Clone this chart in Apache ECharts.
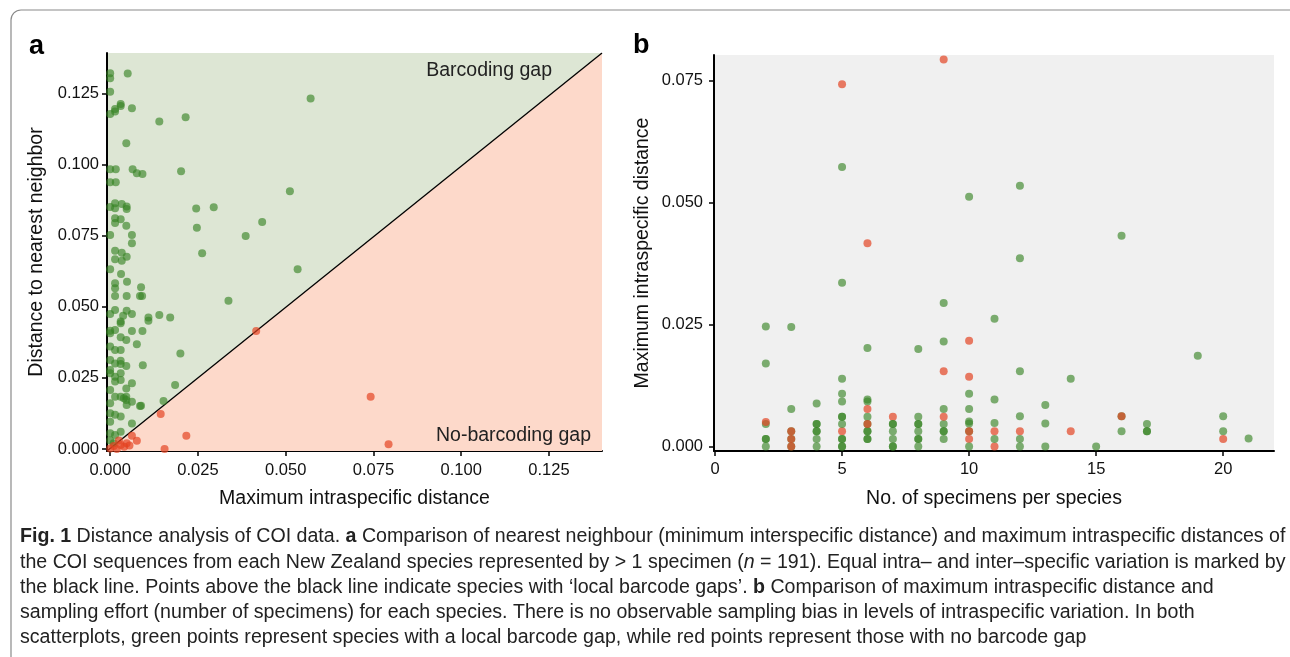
<!DOCTYPE html>
<html><head><meta charset="utf-8">
<script src="https://cdn.jsdelivr.net/npm/echarts@6/dist/echarts.min.js"></script>
<style>html,body{margin:0;padding:0;background:#fff}#c{width:1290px;height:657px}</style>
</head><body><div id="c"></div>
<script>
// Panel a: [max intraspecific distance, distance to nearest neighbour]
const gapPointsA = [
[0,0.1321],[0,0.1303],[0.0050,0.1320],[0,0.1256],[0.0030,0.1213],[0.0030,0.1206],[0.0062,0.1198],[0.0014,0.1186],[0.0014,0.1195],[0,0.1178],[0.0140,0.1151],[0.0215,0.1166],[0.0571,0.1232],[0.0046,0.1075],
[0,0.0983],[0.0016,0.0983],[0.0064,0.0983],[0.0076,0.0969],[0.0092,0.0967],[0.0202,0.0976],[0,0.0938],[0.0016,0.0938],[0.0512,0.0906],
[0,0.0851],[0.0014,0.0864],[0.0014,0.0846],[0.0033,0.0861],[0.0047,0.0852],[0.0047,0.0844],[0.0245,0.0845],[0.0295,0.0850],
[0.0014,0.0811],[0.0030,0.0808],[0.0014,0.0794],[0.0046,0.0785],[0,0.0752],[0.0062,0.0752],[0.0062,0.0723],[0.0247,0.0778],[0.0433,0.0798],[0.0386,0.0749],[0.0262,0.0688],
[0.0014,0.0697],[0.0033,0.0690],[0.0047,0.0676],[0.0014,0.0667],[0.0033,0.0662],[0.0534,0.0632],[0,0.0632],
[0.0031,0.0615],[0.0048,0.0588],[0.0014,0.0583],[0.0014,0.0565],[0.0088,0.0569],[0.0014,0.0538],[0.0047,0.0538],[0.0085,0.0538],[0.0091,0.0538],[0.0337,0.0521],
[0,0.0475],[0.0014,0.0489],[0.0047,0.0486],[0.0062,0.0475],[0.0037,0.0468],[0.0109,0.0462],[0.0109,0.0451],[0.0140,0.0471],[0.0171,0.0462],
[0.0030,0.0448],[0,0.0416],[0.0014,0.0418],[0.0062,0.0415],[0.0092,0.0415],[0.0030,0.0442],[0,0.0407],
[0.0030,0.0393],[0.0046,0.0383],[0.0076,0.0368],[0,0.0360],[0.0014,0.0348],[0.0030,0.0348],[0.0200,0.0336],
[0,0.0313],[0.0014,0.0301],[0.0030,0.0299],[0.0046,0.0292],[0.0093,0.0294],[0.0030,0.0310],
[0,0.0266],[0.0014,0.0254],[0.0030,0.0243],[0.0062,0.0231],[0.0046,0.0213],[0.0185,0.0225],[0,0.0278],[0.0030,0.0266],[0.0014,0.0237],
[0,0.0207],[0.0014,0.0184],[0.0030,0.0184],[0.0046,0.0184],[0.0039,0.0178],[0.0046,0.0172],[0.0085,0.0151],
[0,0.0161],[0.0047,0.0155],[0.0062,0.0166],[0.0088,0.0152],[0.0152,0.0169],
[0,0.0126],[0.0014,0.0120],[0.0030,0.0114],[0.0062,0.0090],[0,0.0096],
[0,0.0055],[0.0014,0.0049],[0.0030,0.0061],[0,0.0030],[0.0010,0.0020]
];
const noGapPointsA = [
[0.0144,0.0123],[0.0217,0.0047],[0.0155,0.0],[0.0416,0.0415],[0.0742,0.0184],[0.0793,0.0017],
[0.0062,0.0047],[0.0076,0.0029],[0.0047,0.0020],[0.0030,0.0014],[0.0010,0.0011],[0,0.0002],[0.0019,0],[0.0040,0.0008],[0.0055,0.0012],[0.0025,0.0030]
];
// Panel b: [no. of specimens, max intraspecific distance]
const gapPointsB = [
[2,0.0246],[2,0.0170],[2,0.0046],[2,0.0015],[2,0],[2,0.0015],
[3,0.0245],[3,0.0077],[3,0.0031],[3,0.0015],[3,0],
[4,0.0088],[4,0.0046],[4,0.0031],[4,0.0015],[4,0],[4,0.0046],[4,0.0031],
[5,0.0573],[5,0.0336],[5,0.0139],[5,0.0108],[5,0.0092],[5,0.0061],[5,0.0061],[5,0.0046],[5,0.0015],[5,0.0015],[5,0],[5,0],
[6,0.0202],[6,0.0096],[6,0.0092],[6,0.0061],[6,0.0031],[6,0.0031],[6,0.0015],[6,0.0015],[6,0.0046],
[7,0.0046],[7,0.0046],[7,0.0031],[7,0.0015],[7,0],[7,0],
[8,0.0200],[8,0.0061],[8,0.0046],[8,0.0046],[8,0.0031],[8,0.0015],[8,0.0015],[8,0],
[9,0.0294],[9,0.0215],[9,0.0077],[9,0.0046],[9,0.0031],[9,0.0031],[9,0.0015],
[10,0.0512],[10,0.0108],[10,0.0077],[10,0.0051],[10,0.0047],[10,0],[10,0.0031],
[11,0.0262],[11,0.0096],[11,0.0048],[11,0.0015],
[12,0.0535],[12,0.0386],[12,0.0154],[12,0.0062],[12,0.0015],[12,0],
[13,0.0085],[13,0.0047],[13,0],
[14,0.0139],
[15,0],
[16,0.0432],[16,0.0031],[16,0.0062],
[17,0.0046],[17,0.0031],[17,0.0031],
[19,0.0186],
[20,0.0062],[20,0.0031],
[21,0.0016]
];
const noGapUnderB = [[7,0.0061],[11,0.0031],[12,0.0031],[14,0.0031],[5,0.0031],[10,0.0015],[11,0]];
const noGapOverB = [
[5,0.0743],[9,0.0794],[6,0.0417],[10,0.0217],[10,0.0143],[9,0.0154],[6,0.0077],[9,0.0061],[6,0.0046],
[2,0.0050],[3,0.0031],[3,0.0015],[3,0],[10,0.0031],[16,0.0062],[20,0.0015]
];
const ticksA = [0, 0.025, 0.05, 0.075, 0.1, 0.125];
const ticksBy = [0, 0.025, 0.05, 0.075];
const ticksBx = [0, 5, 10, 15, 20];
const captionLines = [
  '{b|Fig. 1} Distance analysis of COI data. {b|a} Comparison of nearest neighbour (minimum interspecific distance) and maximum intraspecific distances of',
  'the COI sequences from each New Zealand species represented by > 1 specimen ({i|n} = 191). Equal intra\u2013 and inter\u2013specific variation is marked by',
  'the black line. Points above the black line indicate species with \u2018local barcode gaps\u2019. {b|b} Comparison of maximum intraspecific distance and',
  'sampling effort (number of specimens) for each species. There is no observable sampling bias in levels of intraspecific variation. In both',
  'scatterplots, green points represent species with a local barcode gap, while red points represent those with no barcode gap'
];

const FONT = '"Liberation Sans", Arial, Helvetica, sans-serif';
const CAPFONT = '"Liberation Sans", sans-serif';
const CAPSIZE = 19.6;
const GREEN = 'rgba(54,132,36,0.8)';
const RED = 'rgba(228,66,32,0.86)';
function axisCommon(ticks, fmt, margin) {
  return {
    axisLine: {show: true, onZero: false, lineStyle: {color: '#000', width: 2}},
    axisTick: {show: true, customValues: ticks, length: 5, inside: false, lineStyle: {color: '#000', width: 1.5}},
    axisLabel: {show: true, customValues: ticks, formatter: fmt, margin: margin, color: '#111', fontSize: 16.5, fontFamily: FONT},
    splitLine: {show: false},
    nameLocation: 'middle',
    nameTextStyle: {color: '#111', fontSize: 19.5, fontFamily: FONT}
  };
}
const xMinA = -0.0009, xMaxA = 0.1401, yMinA = -0.0007, yMaxA = 0.1392;

const chart = echarts.init(document.getElementById('c'), null, {renderer: 'canvas'});
const capY = [537, 563, 588, 613, 638];
chart.setOption({
  animation: false,
  backgroundColor: '#fff',
  grid: [
    {left: 107, top: 53, width: 495, height: 398, show: true, backgroundColor: '#dde6d4', borderWidth: 0},
    {left: 714, top: 55, width: 560, height: 396, show: true, backgroundColor: '#f0f0f0', borderWidth: 0}
  ],
  xAxis: [
    Object.assign(axisCommon(ticksA, v => v.toFixed(3), 11), {type: 'value', gridIndex: 0, min: xMinA, max: xMaxA, name: 'Maximum intraspecific distance', nameGap: 38}),
    Object.assign(axisCommon(ticksBx, v => String(v), 10), {type: 'value', gridIndex: 1, min: -0.04, max: 22, name: 'No. of specimens per species', nameGap: 38})
  ],
  yAxis: [
    Object.assign(axisCommon(ticksA, v => v.toFixed(3), 8), {type: 'value', gridIndex: 0, min: yMinA, max: yMaxA, name: 'Distance to nearest neighbor', nameGap: 60}),
    Object.assign(axisCommon(ticksBy, v => v.toFixed(3), 11), {type: 'value', gridIndex: 1, min: -0.00094, max: 0.0803, name: 'Maximum intraspecific distance', nameGap: 61})
  ],
  series: [
    {type: 'line', xAxisIndex: 0, yAxisIndex: 0, data: [[xMinA, yMinA], [xMaxA, yMaxA]], symbol: 'none', silent: true,
     lineStyle: {color: '#000', width: 1.3}, areaStyle: {color: '#fdd9ca', opacity: 1, origin: 'start'}, z: 1},
    {type: 'scatter', xAxisIndex: 0, yAxisIndex: 0, data: gapPointsA, symbolSize: 8, itemStyle: {color: GREEN}, z: 3},
    {type: 'scatter', xAxisIndex: 0, yAxisIndex: 0, data: noGapPointsA, symbolSize: 8, itemStyle: {color: RED}, z: 4},
    {type: 'scatter', xAxisIndex: 1, yAxisIndex: 1, data: noGapUnderB, symbolSize: 8, itemStyle: {color: RED}, z: 2},
    {type: 'scatter', xAxisIndex: 1, yAxisIndex: 1, data: gapPointsB, symbolSize: 8, itemStyle: {color: GREEN}, z: 3},
    {type: 'scatter', xAxisIndex: 1, yAxisIndex: 1, data: noGapOverB, symbolSize: 8, itemStyle: {color: RED}, z: 4}
  ],
  graphic: [
    {type: 'rect', shape: {x: 11, y: 10, width: 1320, height: 720, r: 10}, style: {fill: 'none', stroke: '#8a8a8a', lineWidth: 1.2}, z: 0, silent: true},
    {type: 'text', left: 29, top: 33, style: {text: 'a', font: 'bold 27px ' + FONT, fill: '#000'}},
    {type: 'text', left: 633, top: 32, style: {text: 'b', font: 'bold 27px ' + FONT, fill: '#000'}},
    {type: 'text', x: 552, y: 71, style: {text: 'Barcoding gap', font: '19.5px ' + FONT, fill: '#222', align: 'right', verticalAlign: 'middle'}, z: 10},
    {type: 'text', x: 591, y: 436, style: {text: 'No-barcoding gap', font: '19.5px ' + FONT, fill: '#222', align: 'right', verticalAlign: 'middle'}, z: 10}
  ].concat(captionLines.map((t, i) => ({
    type: 'text', x: 20, y: capY[i], z: 10,
    style: {text: t, fontFamily: CAPFONT, fontSize: CAPSIZE, fill: '#222', verticalAlign: 'middle',
      rich: {b: {fontFamily: CAPFONT, fontSize: CAPSIZE, fontWeight: 'bold', fill: '#222'},
             i: {fontFamily: CAPFONT, fontSize: CAPSIZE, fontStyle: 'italic', fill: '#222'}}}
  })))
});
</script></body></html>
